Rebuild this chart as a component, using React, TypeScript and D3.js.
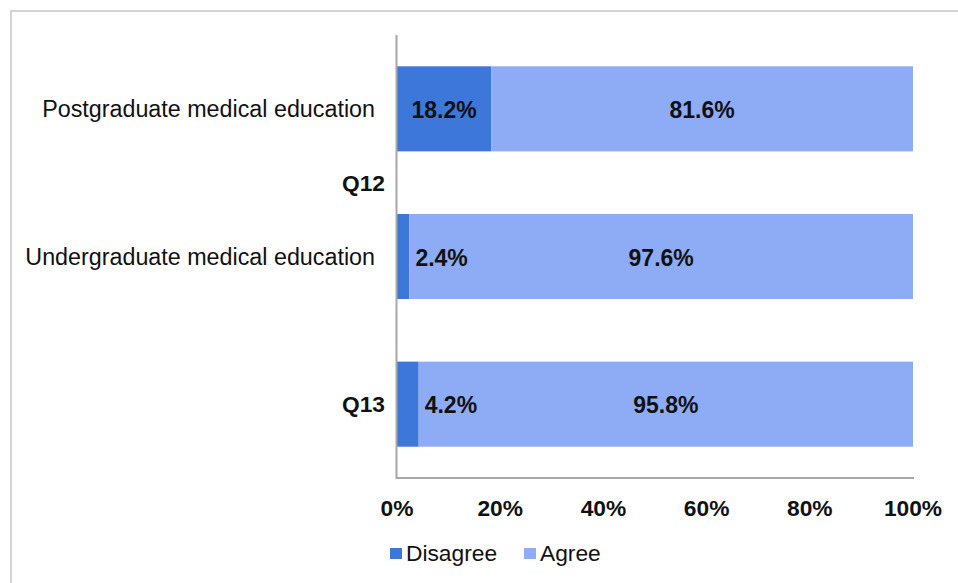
import React from "react";
import * as d3 from "d3";

const subCategories = ["Postgraduate medical education", "Undergraduate medical education", ""];
const groupOf = ["Q12", "Q12", "Q13"];
const groupLabels = ["Q12", "Q13"];
const seriesNames = ["Disagree", "Agree"];
const disagree = [18.2, 2.4, 4.2];
const agree = [81.6, 97.6, 95.8];
const tickValues = [0, 20, 40, 60, 80, 100];
const colors = ["#3c77d9", "#8eabf6"];

const W = 958;
const H = 583;
const FONT = "'Liberation Sans', Arial, sans-serif";

export default function App() {
  const rows = subCategories.map((c, i) => ({ key: String(i), Disagree: disagree[i], Agree: agree[i] }));
  const stack = d3.stack<any>().keys(seriesNames).offset(d3.stackOffsetExpand);
  const layers = stack(rows);

  const x = d3.scaleLinear().domain([0, 100]).range([397, 913]);
  const y = d3
    .scaleBand<string>()
    .domain(rows.map((r) => r.key))
    .range([35, 478])
    .paddingInner(0.424)
    .paddingOuter(0.212);
  const bw = y.bandwidth();
  const center = (i: number) => (y(String(i)) as number) + bw / 2;

  return (
    <div style={{ position: "fixed", left: 0, top: 0 }}>
      <svg width={W} height={H} style={{ display: "block", background: "#fff" }}>
        {/* frame */}
        <line x1={10} x2={W} y1={11} y2={11} stroke="#d4d4d4" strokeWidth={2} />
        <line x1={11} x2={11} y1={10} y2={H} stroke="#d4d4d4" strokeWidth={2} />

        {/* bars */}
        {layers.map((layer, li) => (
          <g key={layer.key}>
            {layer.map((d, i) => (
              <rect
                key={i}
                x={x(d[0] * 100)}
                y={y(String(i))}
                width={x(d[1] * 100) - x(d[0] * 100)}
                height={bw}
                fill={colors[li]}
              />
            ))}
          </g>
        ))}

        {/* data labels */}
        {layers.map((layer, li) =>
          layer.map((d, i) => {
            const x0 = x(d[0] * 100);
            const x1 = x(d[1] * 100);
            const val = li === 0 ? disagree[i] : agree[i];
            const narrow = x1 - x0 < 60;
            return (
              <text
                key={`${li}-${i}`}
                x={narrow ? x1 + 6 : (x0 + x1) / 2}
                y={center(i) + 1}
                dy="0.36em"
                textAnchor={narrow ? "start" : "middle"}
                fontFamily={FONT}
                fontWeight="bold"
                fontSize={23}
                fill="#111"
              >
                {val.toFixed(1)}%
              </text>
            );
          })
        )}

        {/* axes */}
        <line x1={396.5} x2={396.5} y1={35} y2={479} stroke="#a8a8a8" strokeWidth={2} />
        <line x1={396} x2={914} y1={478} y2={478} stroke="#a8a8a8" strokeWidth={2} />

        {/* x tick labels */}
        {tickValues.map((t) => (
          <text
            key={t}
            x={x(t)}
            y={508}
            dy="0.36em"
            textAnchor="middle"
            fontFamily={FONT}
            fontWeight="bold"
            fontSize={22.75}
            fill="#111"
          >
            {t}%
          </text>
        ))}

        {/* sub category labels */}
        {subCategories.map((c, i) => (
          <text
            key={i}
            x={375}
            y={center(i)}
            dy="0.36em"
            textAnchor="end"
            fontFamily={FONT}
            fontSize={23.3}
            fill="#111"
          >
            {c}
          </text>
        ))}

        {/* group labels */}
        {groupLabels.map((g) => {
          const idx = groupOf.map((v, i) => (v === g ? i : -1)).filter((i) => i >= 0);
          const cy = d3.mean(idx.map(center)) as number;
          return (
            <text
              key={g}
              x={385}
              y={cy}
              dy="0.36em"
              textAnchor="end"
              fontFamily={FONT}
              fontWeight="bold"
              fontSize={22.75}
              fill="#111"
            >
              {g}
            </text>
          );
        })}

        {/* legend */}
        {seriesNames.map((s, i) => {
          const lx = i === 0 ? 390 : 524;
          return (
            <g key={s}>
              <rect x={lx} y={548} width={12} height={11} fill={colors[i]} />
              <text
                x={lx + 16}
                y={553}
                dy="0.36em"
                fontFamily={FONT}
                fontSize={22.75}
                fill="#111"
              >
                {s}
              </text>
            </g>
          );
        })}
      </svg>
    </div>
  );
}
